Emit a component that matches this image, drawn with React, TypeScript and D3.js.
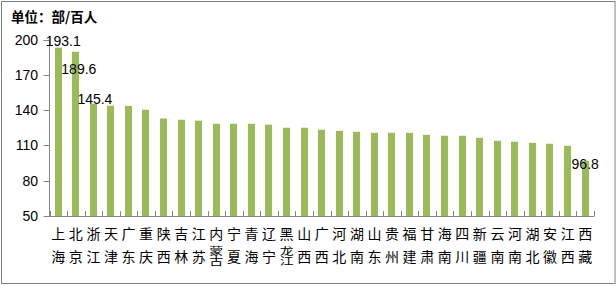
import React from "react";
import * as d3 from "d3";

const categories = [
  "上海", "北京", "浙江", "天津", "广东", "重庆", "陕西", "吉林", "江苏", "内蒙古",
  "宁夏", "青海", "辽宁", "黑龙江", "山西", "广西", "河北", "湖南", "山东", "贵州",
  "福建", "甘肃", "海南", "四川", "新疆", "云南", "河南", "湖北", "安徽", "江西", "西藏",
];

const values = [
  193.1, 189.6, 145.4, 143.7, 143.6, 140.3, 132.9, 131.8, 131.0, 128.4,
  128.4, 128.4, 127.6, 125.0, 125.0, 123.3, 122.4, 121.6, 120.7, 120.7,
  120.7, 119.0, 118.2, 118.2, 116.5, 113.9, 113.1, 112.2, 111.4, 109.7, 96.8,
];

const yTicks = [50, 80, 110, 140, 170, 200];
const labelled = ["上海", "北京", "浙江", "西藏"];
const unitTitle = "单位：部/百人";

// label placement tweaks (style, not data)
const labelShift: Record<string, [number, number]> = {
  "上海": [5, -6.5],
  "北京": [3, 17.5],
  "浙江": [1.5, -4.5],
  "西藏": [0, 3],
};

const W = 616;
const H = 286;
const AXIS = "#868686";
const BAR = "#9BBB59";
const NUM_FONT = "'Liberation Sans', Arial, sans-serif";
const CJK_FONT = "'Noto Sans CJK SC', sans-serif";
const ROW1 = 233;
const ROW2 = 256;

export default function App() {
  const x = d3
    .scaleBand<string>()
    .domain(categories)
    .range([49.5, 594])
    .paddingInner(0.583)
    .paddingOuter(0.2915);
  const y = d3.scaleLinear().domain([50, 200]).range([216, 39.5]);
  const step = x.step();
  const x0 = x.range()[0];
  const yBase = y(50);

  return (
    <svg
      width={W}
      height={H}
      style={{ position: "absolute", left: 0, top: 0, background: "#fff" }}
    >
      <rect x={1.5} y={1.5} width={613.5} height={282} fill="#fff" stroke="#808080" strokeWidth={1} />
      <text x={11} y={22} fontFamily={CJK_FONT} fontWeight="bold" fontSize={13.5} fill="#000">
        {unitTitle}
      </text>

      {/* bars */}
      {categories.map((c, i) => (
        <rect
          key={c}
          x={Math.round(x(c)!)}
          y={y(values[i])}
          width={Math.round(x.bandwidth())}
          height={yBase - y(values[i])}
          fill={BAR}
        />
      ))}

      {/* y axis */}
      <line x1={49.5} x2={49.5} y1={y(200)} y2={yBase} stroke={AXIS} strokeWidth={1} />
      {yTicks.map((t) => (
        <g key={t}>
          <line x1={43.5} x2={49.5} y1={Math.round(y(t)) + 0.5} y2={Math.round(y(t)) + 0.5} stroke={AXIS} />
          <text
            x={38}
            y={y(t)}
            textAnchor="end"
            dominantBaseline="central"
            fontFamily={NUM_FONT}
            fontSize={14}
            fill="#000"
          >
            {t}
          </text>
        </g>
      ))}

      {/* x axis */}
      <line x1={49.5} x2={594} y1={yBase + 0.5} y2={yBase + 0.5} stroke={AXIS} strokeWidth={1} />
      {d3.range(categories.length + 1).map((i) => {
        const tx = Math.round(x0 + i * step) + 0.5;
        return <line key={i} x1={tx} x2={tx} y1={yBase - 5} y2={yBase + 0.5} stroke={AXIS} />;
      })}

      {/* category labels (vertical chars) */}
      {categories.map((c) => {
        const chars = Array.from(c);
        const cx = x(c)! + x.bandwidth() / 2;
        if (chars.length === 3) {
          return (
            <g key={c}>
              <text
                x={cx}
                y={ROW1}
                textAnchor="middle"
                dominantBaseline="central"
                fontFamily={CJK_FONT}
                fontSize={14}
                fill="#000"
              >
                {chars[0]}
              </text>
              <text
                transform={`translate(${cx},${ROW2}) scale(1,0.72)`}
                x={0}
                y={0}
                textAnchor="middle"
                style={{ writingMode: "vertical-rl" as any }}
                fontFamily={CJK_FONT}
                fontSize={14}
                fill="#000"
              >
                {chars.slice(1).join("")}
              </text>
            </g>
          );
        }
        return (
          <text
            key={c}
            textAnchor="middle"
            dominantBaseline="central"
            fontFamily={CJK_FONT}
            fontSize={14}
            fill="#000"
          >
            <tspan x={cx} y={ROW1}>{chars[0]}</tspan>
            <tspan x={cx} y={ROW2}>{chars[1]}</tspan>
          </text>
        );
      })}

      {/* data labels */}
      {labelled.map((c) => {
        const i = categories.indexOf(c);
        const [dx, dy] = labelShift[c];
        return (
          <text
            key={c}
            x={x(c)! + x.bandwidth() / 2 + dx}
            y={y(values[i]) + dy}
            textAnchor="middle"
            dominantBaseline="central"
            fontFamily={NUM_FONT}
            fontSize={14}
            fill="#000"
          >
            {values[i].toFixed(1)}
          </text>
        );
      })}
    </svg>
  );
}
